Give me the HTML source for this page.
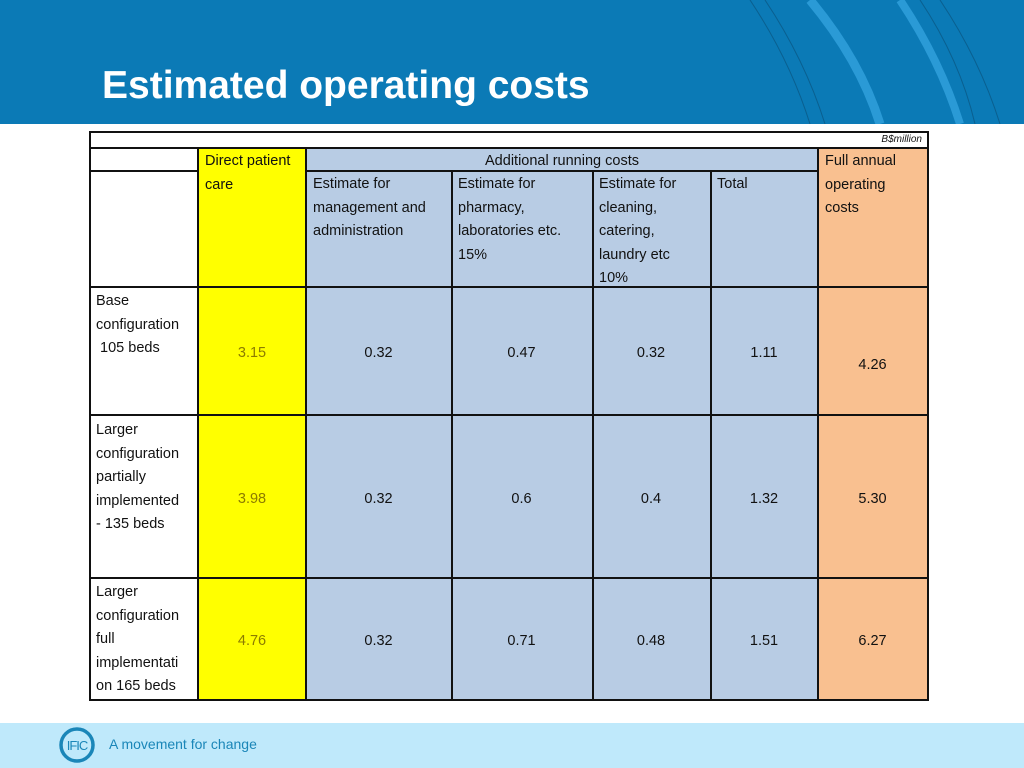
<!DOCTYPE html>
<html><head><meta charset="utf-8">
<style>
*{margin:0;padding:0;box-sizing:border-box}
body{width:1024px;height:768px;position:relative;overflow:hidden;background:#fff;font-family:"Liberation Sans",sans-serif}
.abs{position:absolute}
.t{position:absolute;font-size:14.5px;line-height:23.5px;color:#111;white-space:nowrap}
.n{position:absolute;font-size:14.5px;line-height:20px;color:#111;text-align:center}
.h{position:absolute;background:#111;height:2px}
.v{position:absolute;background:#111;width:2px}
</style></head><body>
<div class="abs" style="left:0;top:0;width:1024px;height:124px;background:#0b7ab6"></div>
<svg class="abs" style="left:0;top:0" width="1024" height="124">
<g fill="none">
<path d="M810 0 Q860 60 880 124" stroke="#2a9ad6" stroke-width="9"/>
<path d="M900 0 Q940 60 960 124" stroke="#2a9ad6" stroke-width="8"/>
<path d="M750 0 Q790 60 810 124" stroke="#0a5f8f" stroke-width="1"/>
<path d="M765 0 Q805 60 825 124" stroke="#0a5f8f" stroke-width="1"/>
<path d="M920 0 Q960 60 975 124" stroke="#0a5f8f" stroke-width="1"/>
<path d="M940 0 Q980 60 1000 124" stroke="#0a5f8f" stroke-width="1"/>
</g></svg>
<div class="abs" style="left:102px;top:63px;font-size:39px;font-weight:bold;color:#fff;line-height:46px">Estimated operating costs</div>

<div class="abs" style="left:198px;top:148px;width:108px;height:552px;background:#ffff00"></div>
<div class="abs" style="left:306px;top:148px;width:512px;height:552px;background:#b8cce4"></div>
<div class="abs" style="left:818px;top:148px;width:109px;height:552px;background:#f9c090"></div>

<div id="lines">
<div class="h" style="left:90px;top:131px;width:839px"></div>
<div class="h" style="left:90px;top:147px;width:839px"></div>
<div class="h" style="left:90px;top:170px;width:108px"></div>
<div class="h" style="left:306px;top:170px;width:512px"></div>
<div class="h" style="left:90px;top:286px;width:839px"></div>
<div class="h" style="left:90px;top:414px;width:839px"></div>
<div class="h" style="left:90px;top:577px;width:839px"></div>
<div class="h" style="left:90px;top:699px;width:839px"></div>
<div class="v" style="left:89px;top:131px;height:570px"></div>
<div class="v" style="left:927px;top:131px;height:570px"></div>
<div class="v" style="left:197px;top:147px;height:554px"></div>
<div class="v" style="left:305px;top:147px;height:554px"></div>
<div class="v" style="left:817px;top:147px;height:554px"></div>
<div class="v" style="left:451px;top:170px;height:531px"></div>
<div class="v" style="left:592px;top:170px;height:531px"></div>
<div class="v" style="left:710px;top:170px;height:531px"></div>
</div>

<div class="abs" style="left:860px;top:134px;width:62px;text-align:right;font-size:10px;font-style:italic;color:#111">B$million</div>
<div class="t" style="left:205px;top:150px">Direct patient<br>care</div>
<div class="t" style="left:306px;top:150px;width:512px;text-align:center">Additional running costs</div>
<div class="t" style="left:825px;top:150px">Full annual<br>operating<br>costs</div>
<div class="t" style="left:313px;top:173px">Estimate for<br>management and<br>administration</div>
<div class="t" style="left:458px;top:173px">Estimate for<br>pharmacy,<br>laboratories etc.<br>15%</div>
<div class="t" style="left:599px;top:173px">Estimate for<br>cleaning,<br>catering,<br>laundry etc<br>10%</div>
<div class="t" style="left:717px;top:173px">Total</div>

<div class="t" style="left:96px;top:290px">Base<br>configuration<br>&nbsp;105 beds</div>
<div class="t" style="left:96px;top:419px">Larger<br>configuration<br>partially<br>implemented<br>- 135 beds</div>
<div class="t" style="left:96px;top:581px">Larger<br>configuration<br>full<br>implementati<br>on 165 beds</div>

<div id="cells"></div>

<div class="abs" style="left:0;top:723px;width:1024px;height:45px;background:#bfe9fb"></div>
<svg class="abs" style="left:58px;top:726px" width="40" height="40">
<circle cx="19" cy="19" r="16" fill="none" stroke="#1a86b8" stroke-width="3.5"/>
<text x="19" y="24" font-size="13" text-anchor="middle" fill="#1a86b8" font-family="Liberation Sans" letter-spacing="-1">IFIC</text>
</svg>
<div class="abs" style="left:109px;top:736px;font-size:14px;color:#1a86b8">A movement for change</div>

<script>
const rows = ["base", "partial", "full"];
const direct = ["3.15", "3.98", "4.76"];
const mgmt = ["0.32", "0.32", "0.32"];
const pharmacy = ["0.47", "0.6", "0.71"];
const cleaning = ["0.32", "0.4", "0.48"];
const totals = ["1.11", "1.32", "1.51"];
const fullAnnual = ["4.26", "5.30", "6.27"];
const rowCenters = [353, 499, 641];
const colX = [198, 306, 451, 592, 710, 818, 927];
const cont = document.getElementById('cells');
const series = [direct, mgmt, pharmacy, cleaning, totals, fullAnnual];
const names = ["direct", "mgmt", "pharmacy", "cleaning", "total", "full-annual"];
series.forEach((arr, c) => {
  arr.forEach((val, r) => {
    const d = document.createElement('div');
    d.className = 'n';
    
    
    let y = rowCenters[r];
    if (c === 5 && r === 0) y = 365;
    d.style.left = colX[c] + 'px';
    d.style.width = (colX[c + 1] - colX[c]) + 'px';
    d.style.top = (y - 10) + 'px';
    if (c === 0) d.style.color = '#8c7c00';
    d.textContent = val;
    cont.appendChild(d);
  });
});
</script>
</body></html>
